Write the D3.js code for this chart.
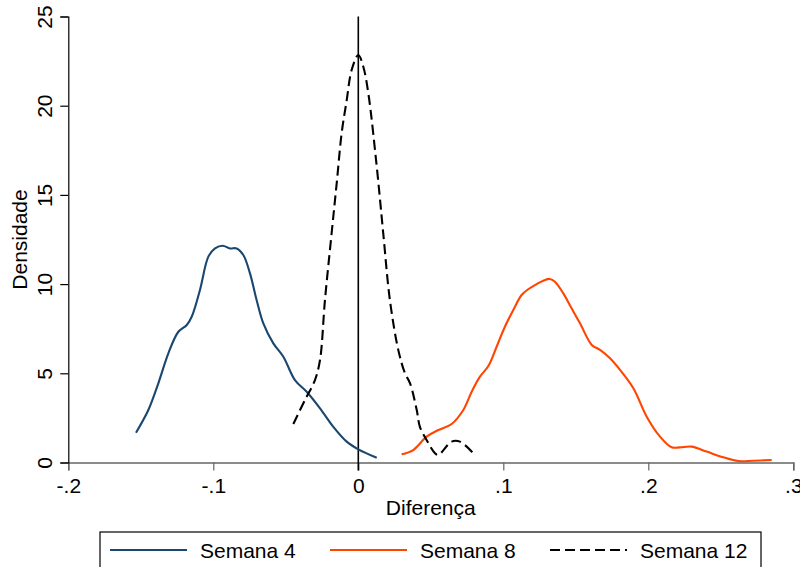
<!DOCTYPE html>
<html>
<head>
<meta charset="utf-8">
<script src="https://cdn.jsdelivr.net/npm/d3@7"></script>
<style>
html,body{margin:0;padding:0;background:#fff;}
svg{display:block;font-family:"Liberation Sans",Arial,sans-serif;}
</style>
</head>
<body>
<svg id="chart" width="800" height="567"></svg>
<script>
// ---- data ----
const xTicks = [-0.2, -0.1, 0, 0.1, 0.2, 0.3];
const xTickLabels = ["-.2", "-.1", "0", ".1", ".2", ".3"];
const yTicks = [0, 5, 10, 15, 20, 25];
const yTickLabels = ["0", "5", "10", "15", "20", "25"];
const seriesNames = ["Semana 4", "Semana 8", "Semana 12"];

const sem4X = [-0.1533,-0.1448,-0.1379,-0.131,-0.1241,-0.1183,-0.1149,-0.1092,-0.1034,-0.0988,-0.0935,-0.0885,-0.0839,-0.0793,-0.0747,-0.0701,-0.0655,-0.0586,-0.0517,-0.0437,-0.0356,-0.0264,-0.0172,-0.008,0,0.0127];
const sem4Y = [1.67,2.94,4.44,6.12,7.33,7.71,8.17,9.67,11.54,12.0,12.15,12.0,12.0,11.63,10.6,9.1,7.8,6.68,5.93,4.62,3.97,3.04,2.0,1.17,0.74,0.27];

const sem8X = [0.0299,0.0379,0.0471,0.0552,0.0644,0.0724,0.0782,0.0839,0.0897,0.0954,0.1011,0.1069,0.1126,0.1172,0.123,0.1276,0.1322,0.1356,0.1414,0.1471,0.1529,0.161,0.1667,0.1736,0.1805,0.1897,0.1989,0.2081,0.2161,0.2218,0.2299,0.2402,0.2517,0.2621,0.2724,0.2851];
const sem8Y = [0.46,0.7,1.45,1.82,2.16,2.94,3.97,4.81,5.41,6.49,7.61,8.55,9.39,9.71,10.0,10.19,10.29,10.13,9.48,8.64,7.8,6.59,6.31,5.84,5.19,4.16,2.57,1.45,0.85,0.85,0.89,0.61,0.29,0.08,0.1,0.14];

const sem12X = [-0.0448,-0.0368,-0.0299,-0.0264,-0.023,-0.0184,-0.0149,-0.0115,-0.008,-0.0046,0,0.0034,0.0069,0.0127,0.0172,0.0218,0.0276,0.0322,0.0357,0.0403,0.0425,0.0471,0.0529,0.0552,0.0644,0.0701,0.0793];
const sem12Y = [2.16,3.5,4.62,5.75,9.1,12.85,15.65,18.45,20.3,22.0,22.84,22.2,20.7,16.6,12.85,9.1,6.3,5.0,4.44,2.94,2.0,1.26,0.52,0.42,1.17,1.17,0.52];

// ---- layout ----
const svg = d3.select("#chart");
const x = d3.scaleLinear().domain([-0.2, 0.3]).range([68.3, 793.3]);
const y = d3.scaleLinear().domain([0, 25]).range([462.5, 16.5]);
const FONT = 21;

// x axis
const xAxis = d3.axisBottom(x).tickValues(xTicks)
  .tickFormat((d, i) => xTickLabels[i]).tickSize(8).tickPadding(8);
const gx = svg.append("g").attr("transform", `translate(0,${y(0)})`).call(xAxis);
gx.select(".domain").attr("stroke", "#666").attr("stroke-width", 1.5);
gx.selectAll(".tick line").attr("stroke", "#666").attr("stroke-width", 1.2);
gx.selectAll(".tick text").attr("font-size", FONT).attr("fill", "#000")
  .attr("font-family", "Liberation Sans, Arial, sans-serif");

// y axis
const yAxis = d3.axisLeft(y).tickValues(yTicks)
  .tickFormat((d, i) => yTickLabels[i]).tickSize(8).tickPadding(0);
const gy = svg.append("g").attr("transform", `translate(${x(-0.2)},0)`).call(yAxis);
gy.select(".domain").attr("stroke", "#000").attr("stroke-width", 1.2);
gy.selectAll(".tick line").attr("stroke", "#000").attr("stroke-width", 1.2);
gy.selectAll(".tick text")
  .attr("font-size", FONT).attr("fill", "#000")
  .attr("font-family", "Liberation Sans, Arial, sans-serif")
  .attr("text-anchor", "middle")
  .attr("x", 0).attr("dy", 0)
  .attr("transform", "translate(-16,0) rotate(-90)");

// axis titles
svg.append("text").attr("x", (x(-0.2) + x(0.3)) / 2).attr("y", 515)
  .attr("text-anchor", "middle").attr("font-size", FONT).text("Diferença");
svg.append("text").attr("transform", `translate(27,${(y(0) + y(25)) / 2}) rotate(-90)`)
  .attr("text-anchor", "middle").attr("font-size", FONT).text("Densidade");

// zero reference line
svg.append("line").attr("x1", x(0)).attr("x2", x(0))
  .attr("y1", y(25)).attr("y2", y(0) + 8)
  .attr("stroke", "#000").attr("stroke-width", 1.6);

// curves
const line = d3.line().x(d => x(d[0])).y(d => y(d[1])).curve(d3.curveCatmullRom.alpha(0.5));
const series = [
  {name: seriesNames[0], pts: d3.zip(sem4X, sem4Y), color: "#1a476f", dash: null},
  {name: seriesNames[1], pts: d3.zip(sem8X, sem8Y), color: "#ff4500", dash: null},
  {name: seriesNames[2], pts: d3.zip(sem12X, sem12Y), color: "#000", dash: "10,5"}
];
series.forEach(s => {
  svg.append("path").attr("d", line(s.pts)).attr("fill", "none")
    .attr("stroke", s.color).attr("stroke-width", 2.1)
    .attr("stroke-dasharray", s.dash);
});

// legend
svg.append("rect").attr("x", 100).attr("y", 532).attr("width", 661).attr("height", 60)
  .attr("fill", "#fff").attr("stroke", "#000").attr("stroke-width", 1.2);
const legX = [110, 330, 550];
series.forEach((s, i) => {
  svg.append("line").attr("x1", legX[i]).attr("x2", legX[i] + 77)
    .attr("y1", 550).attr("y2", 550)
    .attr("stroke", s.color).attr("stroke-width", 2).attr("stroke-dasharray", s.dash);
  svg.append("text").attr("x", legX[i] + 90).attr("y", 558)
    .attr("font-size", FONT).text(s.name);
});
</script>
</body>
</html>
